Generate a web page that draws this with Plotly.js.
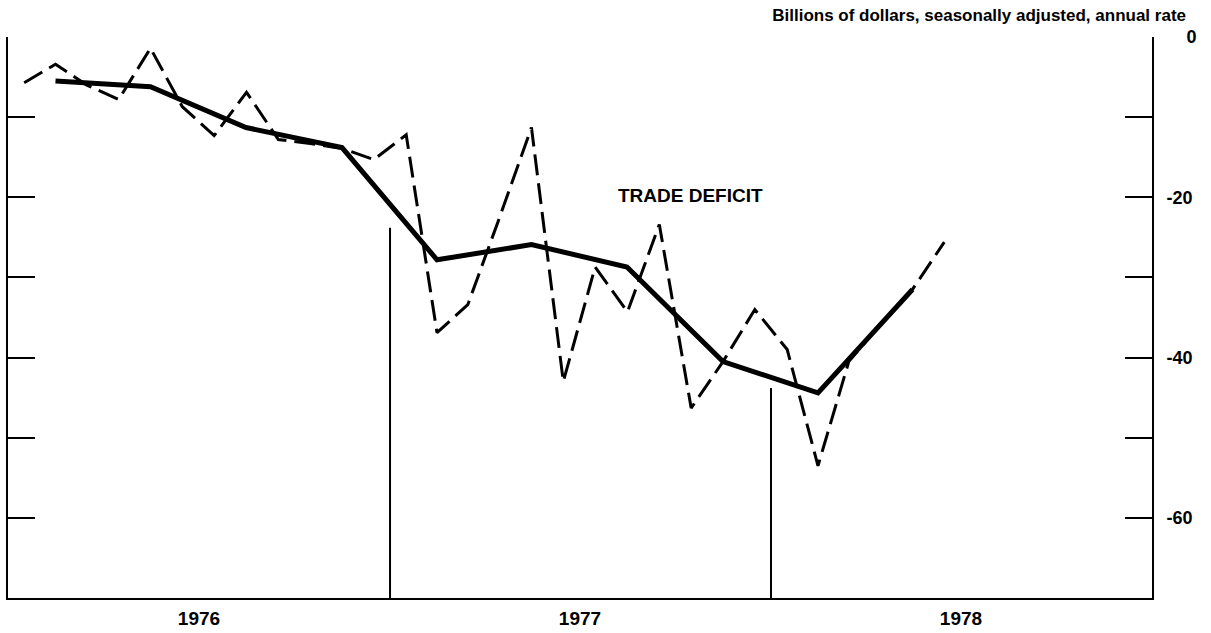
<!DOCTYPE html>
<html>
<head>
<meta charset="utf-8">
<script src="https://cdn.plot.ly/plotly-3.0.1.min.js"></script>
<style>html,body{margin:0;padding:0;background:#fff;}#chart{width:1211px;height:633px;}</style>
</head>
<body>
<div id="chart"></div>
<script>
// Monthly trade balance (billions of dollars, SAAR)
const months = [
  '1976-01','1976-02','1976-03','1976-04','1976-05','1976-06',
  '1976-07','1976-08','1976-09','1976-10','1976-11','1976-12',
  '1977-01','1977-02','1977-03','1977-04','1977-05','1977-06',
  '1977-07','1977-08','1977-09','1977-10','1977-11','1977-12',
  '1978-01','1978-02','1978-03','1978-04','1978-05','1978-06'
];
const monthlyValues = [
  -5.7, -3.4, -6.0, -7.8, -1.4, -8.7,
  -12.3, -6.9, -12.8, -13.3, -13.9, -15.3,
  -12.2, -36.9, -33.4, -22.5, -11.3, -43.0,
  -28.7, -34.3, -23.4, -46.3, -40.5, -34.0,
  -39.0, -53.5, -40.5, -35.8, -31.5, -25.6
];
// Quarterly trade balance
const quarters = [
  '1976-01','1976-04','1976-07','1976-10',
  '1977-01','1977-04','1977-07','1977-10',
  '1978-01','1978-04'
];
const quarterlyValues = [-5.5, -6.2, -11.3, -13.8, -27.8, -25.9, -28.7, -40.5, -44.4, -31.5];

const yearLabels = ['1976', '1977', '1978'];
const yTickValues = [0, -10, -20, -30, -40, -50, -60];
const yTickLabels = ['\u2007\u20070', '', '-20', '', '-40', '', '-60'];

const FONT = 'Liberation Sans, Arial, Helvetica, sans-serif';

const traces = [
  {
    type: 'scatter', mode: 'lines',
    x: months, y: monthlyValues,
    xperiod: 'M1', xperiodalignment: 'middle',
    line: {color: '#000', width: 3, dash: '21px,8px'},
    hoverinfo: 'skip', showlegend: false
  },
  {
    type: 'scatter', mode: 'lines',
    x: quarters, y: quarterlyValues,
    xperiod: 'M3', xperiodalignment: 'middle',
    line: {color: '#000', width: 5},
    hoverinfo: 'skip', showlegend: false
  }
];

const layout = {
  width: 1211, height: 633,
  margin: {l: 8, r: 59, t: 37, b: 35, pad: 0},
  paper_bgcolor: '#fff', plot_bgcolor: '#fff',
  font: {family: FONT, color: '#000', weight: 'bold'},
  title: {
    text: 'Billions of dollars, seasonally adjusted, annual rate',
    font: {family: FONT, size: 17, color: '#000', weight: 'bold'},
    xref: 'container', yref: 'container',
    x: 1186 / 1211, xanchor: 'right',
    y: 1 - 15 / 633, yanchor: 'middle'
  },
  xaxis: {
    type: 'date',
    range: ['1976-01-01', '1979-01-01'],
    showgrid: false, zeroline: false,
    showline: true, linecolor: '#000', linewidth: 2,
    ticks: '',
    tickvals: yearLabels.map(y => y + '-07-02'),
    ticktext: yearLabels,
    tickfont: {family: FONT, size: 19, color: '#000', weight: 'bold'},
    ticklabelstandoff: 2
  },
  yaxis: {
    side: 'right',
    range: [-70, 0],
    showgrid: false, zeroline: false,
    showline: true, linecolor: '#000', linewidth: 2,
    mirror: 'ticks',
    ticks: 'inside', ticklen: 27, tickwidth: 2, tickcolor: '#000',
    tickvals: yTickValues, ticktext: yTickLabels,
    tickfont: {family: FONT, size: 18, color: '#000', weight: 'bold'},
    ticklabelstandoff: 9
  },
  shapes: [
    {type: 'line', xref: 'x', yref: 'y', x0: '1977-01-01', x1: '1977-01-01', y0: -70, y1: -23.8,
     line: {color: '#000', width: 2}},
    {type: 'line', xref: 'x', yref: 'y', x0: '1978-01-01', x1: '1978-01-01', y0: -70, y1: -43.8,
     line: {color: '#000', width: 2}}
  ],
  annotations: [
    {text: 'TRADE DEFICIT', xref: 'paper', yref: 'paper',
     x: (691 - 8) / 1144, y: 1 - (195 - 37) / 561,
     xanchor: 'center', yanchor: 'middle', showarrow: false,
     font: {family: FONT, size: 19, color: '#000', weight: 'bold'}}
  ]
};

Plotly.newPlot('chart', traces, layout, {displayModeBar: false, staticPlot: true});
</script>
</body>
</html>
